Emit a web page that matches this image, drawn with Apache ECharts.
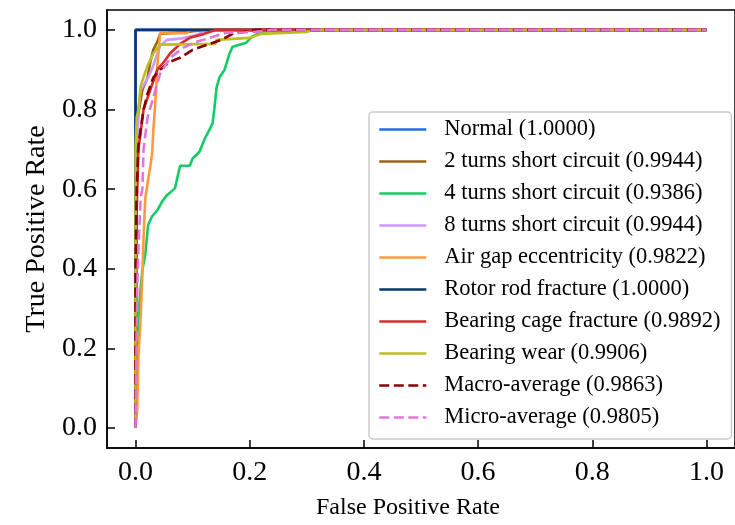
<!DOCTYPE html>
<html>
<head>
<meta charset="utf-8">
<script src="https://cdn.jsdelivr.net/npm/echarts@6/dist/echarts.min.js"></script>
<style>html,body{margin:0;padding:0;background:#fff}#c{width:735px;height:525px}</style>
</head>
<body>
<div id="c"></div>
<script>
// Tick labels
const xTicks = [0, 0.2, 0.4, 0.6, 0.8, 1.0];
const yTicks = [0, 0.2, 0.4, 0.6, 0.8, 1.0];

// Legend names
const names = [
  'Normal (1.0000)',
  '2 turns short circuit (0.9944)',
  '4 turns short circuit (0.9386)',
  '8 turns short circuit (0.9944)',
  'Air gap eccentricity (0.9822)',
  'Rotor rod fracture (1.0000)',
  'Bearing cage fracture (0.9892)',
  'Bearing wear (0.9906)',
  'Macro-average (0.9863)',
  'Micro-average (0.9805)'
];

// ROC points (FPR, TPR) per class
const fprNormal = [0, 0, 1];
const tprNormal = [0, 1, 1];

const fpr2turns = [0, 0.002, 0.003, 0.005, 0.012, 0.021, 0.026, 0.031, 0.038, 0.043, 0.09, 0.12, 1];
const tpr2turns = [0, 0.6, 0.75, 0.79, 0.85, 0.88, 0.92, 0.95, 0.97, 0.99, 0.995, 1.0, 1];

const fpr4turns = [0, 0.002, 0.003, 0.005, 0.009, 0.012, 0.017, 0.022, 0.029, 0.038, 0.047, 0.055, 0.061, 0.069, 0.078, 0.095, 0.100, 0.112, 0.121, 0.130, 0.135, 0.138, 0.142, 0.147, 0.156, 0.164, 0.170, 0.194, 0.204, 0.221, 0.251, 1];
const tpr4turns = [0, 0.129, 0.216, 0.279, 0.353, 0.398, 0.435, 0.510, 0.532, 0.547, 0.570, 0.585, 0.592, 0.602, 0.659, 0.659, 0.677, 0.694, 0.726, 0.751, 0.766, 0.801, 0.856, 0.881, 0.900, 0.938, 0.958, 0.968, 0.983, 0.995, 1.0, 1];

const fpr8turns = [0, 0.002, 0.005, 0.009, 0.022, 0.031, 0.043, 0.055, 0.078, 0.100, 0.120, 0.130, 1];
const tpr8turns = [0, 0.6, 0.8, 0.85, 0.88, 0.91, 0.96, 0.975, 0.978, 0.985, 0.995, 1.0, 1];

const fprAirGap = [0, 0.002, 0.003, 0.005, 0.009, 0.012, 0.014, 0.017, 0.021, 0.026, 0.029, 0.031, 0.035, 0.038, 0.043, 0.090, 0.095, 1];
const tprAirGap = [0, 0.03, 0.047, 0.179, 0.279, 0.39, 0.478, 0.577, 0.614, 0.659, 0.689, 0.744, 0.826, 0.908, 0.992, 0.992, 1.0, 1];

const fprRotor = [0, 0, 1];
const tprRotor = [0, 1, 1];

const fprCage = [0, 0.002, 0.005, 0.014, 0.026, 0.038, 0.050, 0.060, 0.078, 0.095, 0.120, 0.140, 1];
const tprCage = [0, 0.55, 0.70, 0.80, 0.85, 0.90, 0.92, 0.94, 0.965, 0.98, 0.99, 1.0, 1];

const fprWear = [0, 0, 0.002, 0.005, 0.009, 0.021, 0.031, 0.043, 0.140, 0.142, 0.200, 0.220, 0.300, 0.310, 1];
const tprWear = [0, 0.7, 0.78, 0.80, 0.86, 0.91, 0.94, 0.963, 0.965, 0.975, 0.98, 0.99, 0.995, 1.0, 1];

const fprMacro = [0, 0, 0.002, 0.005, 0.014, 0.021, 0.031, 0.043, 0.060, 0.078, 0.100, 0.120, 0.150, 0.170, 0.190, 0.210, 1];
const tprMacro = [0, 0.4, 0.6, 0.71, 0.80, 0.84, 0.88, 0.90, 0.92, 0.93, 0.95, 0.96, 0.975, 0.99, 0.995, 1.0, 1];

const fprMicro = [0, 0.002, 0.003, 0.005, 0.009, 0.012, 0.014, 0.021, 0.031, 0.043, 0.061, 0.083, 0.107, 0.130, 0.159, 0.180, 0.210, 0.240, 1];
const tprMicro = [0, 0.25, 0.35, 0.45, 0.58, 0.60, 0.70, 0.78, 0.83, 0.89, 0.93, 0.955, 0.97, 0.98, 0.993, 0.993, 0.995, 1.0, 1];

const fprs = [fprNormal, fpr2turns, fpr4turns, fpr8turns, fprAirGap, fprRotor, fprCage, fprWear, fprMacro, fprMicro];
const tprs = [tprNormal, tpr2turns, tpr4turns, tpr8turns, tprAirGap, tprRotor, tprCage, tprWear, tprMacro, tprMicro];

const colors = ['#1E6FE6', '#9B6414', '#14CC66', '#CC99FF', '#FF9A3C', '#0A386C', '#D92B2B', '#BEBE22', '#8B0000', '#DE78D8'];
const dashed = [false, false, false, false, false, false, false, false, true, true];

const FONT = "'Liberation Serif', 'Times New Roman', serif";

const series = names.map((n, i) => ({
  name: n,
  type: 'line',
  symbol: 'none',
  silent: true,
  animation: false,
  data: fprs[i].map((x, k) => [x, tprs[i][k]]),
  lineStyle: { color: colors[i], width: 2.6, type: dashed[i] ? [10, 4.5] : 'solid' },
  itemStyle: { color: colors[i] }
}));

const chart = echarts.init(document.getElementById('c'), null, { renderer: 'canvas' });
chart.setOption({
  animation: false,
  backgroundColor: '#fff',
  grid: {
    left: 107, top: 10, right: -7, bottom: 73,
    show: true, borderColor: '#000', borderWidth: 1.5, backgroundColor: 'transparent'
  },
  xAxis: {
    type: 'value', min: -0.05, max: 1.05,
    name: 'False Positive Rate', nameLocation: 'middle', nameGap: 48,
    nameTextStyle: { fontFamily: FONT, fontSize: 24, color: '#000', padding: [0, 26, 0, 0] },
    axisLine: { show: true, onZero: false, lineStyle: { color: '#000', width: 1.5 } },
    axisTick: { show: true, inside: true, length: 8, lineStyle: { color: '#000', width: 1.5 }, customValues: xTicks },
    axisLabel: { fontFamily: FONT, fontSize: 28, color: '#000', margin: 11, customValues: xTicks, formatter: v => v.toFixed(1) },
    splitLine: { show: false }
  },
  yAxis: {
    type: 'value', min: -0.05, max: 1.05,
    name: 'True Positive Rate', nameLocation: 'middle', nameGap: 55,
    nameTextStyle: { fontFamily: FONT, fontSize: 28, color: '#000' },
    axisLine: { show: true, onZero: false, lineStyle: { color: '#000', width: 1.5 } },
    axisTick: { show: true, inside: true, length: 8, lineStyle: { color: '#000', width: 1.5 }, customValues: yTicks },
    axisLabel: { fontFamily: FONT, fontSize: 28, color: '#000', margin: 10, customValues: yTicks, formatter: v => v.toFixed(1) },
    splitLine: { show: false }
  },
  legend: {
    orient: 'vertical', left: 369, top: 112,
    data: names,
    itemWidth: 47, itemHeight: 14, itemGap: 9,
    padding: [6, 11, 10, 9],
    backgroundColor: 'rgba(255,255,255,0.85)',
    borderColor: '#cccccc', borderWidth: 1.5, borderRadius: 4,
    selectedMode: false,
    itemStyle: { opacity: 0 },
    lineStyle: { width: 2.6 },
    textStyle: { fontFamily: FONT, fontSize: 22.5, lineHeight: 22, color: '#000', padding: [0, 0, 0, 13] }
  },
  series: series
});
</script>
</body>
</html>
